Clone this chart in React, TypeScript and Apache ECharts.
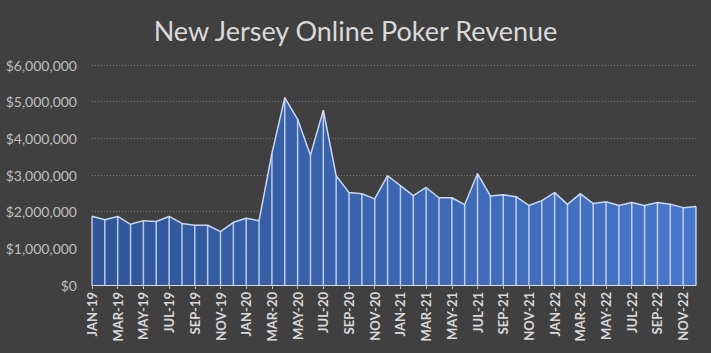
import React, { useEffect, useRef } from "react";
import * as echarts from "echarts";

const months = [
  "JAN-19","FEB-19","MAR-19","APR-19","MAY-19","JUN-19","JUL-19","AUG-19","SEP-19","OCT-19","NOV-19","DEC-19",
  "JAN-20","FEB-20","MAR-20","APR-20","MAY-20","JUN-20","JUL-20","AUG-20","SEP-20","OCT-20","NOV-20","DEC-20",
  "JAN-21","FEB-21","MAR-21","APR-21","MAY-21","JUN-21","JUL-21","AUG-21","SEP-21","OCT-21","NOV-21","DEC-21",
  "JAN-22","FEB-22","MAR-22","APR-22","MAY-22","JUN-22","JUL-22","AUG-22","SEP-22","OCT-22","NOV-22","DEC-22",
];

const revenue = [
  1873000, 1780000, 1870000, 1655000, 1755000, 1730000, 1870000, 1680000, 1630000, 1630000, 1455000, 1710000,
  1820000, 1755000, 3590000, 5110000, 4520000, 3540000, 4770000, 2980000, 2520000, 2490000, 2350000, 2980000,
  2710000, 2440000, 2660000, 2380000, 2380000, 2190000, 3040000, 2430000, 2460000, 2410000, 2170000, 2300000,
  2520000, 2200000, 2490000, 2220000, 2270000, 2170000, 2250000, 2170000, 2250000, 2200000, 2110000, 2140000,
];

const yTicks = { min: 0, max: 6000000, interval: 1000000 };

export default function App() {
  const ref = useRef<HTMLDivElement>(null);
  useEffect(() => {
    if (!ref.current) return;
    const chart = echarts.init(ref.current, undefined, { renderer: "svg" });
    chart.setOption({
      animation: false,
      backgroundColor: "#404040",
      title: {
        text: "New Jersey Online Poker Revenue",
        left: "center",
        top: 12,
        textStyle: { color: "#d9d9d9", fontSize: 27, fontWeight: "normal", fontFamily: "Lato" },
      },
      grid: { left: 92, right: 15, top: 65, bottom: 68 },
      xAxis: {
        type: "category",
        data: months,
        boundaryGap: false,
        axisLine: { lineStyle: { color: "#d9d9d9", width: 1 } },
        axisTick: { show: true, interval: 1, length: 4, lineStyle: { color: "#bfbfbf" } },
        axisLabel: {
          interval: 1,
          rotate: 90,
          color: "#d9d9d9",
          fontWeight: "bold",
          fontSize: 13,
          fontFamily: "Lato",
          margin: 7,
        },
        splitLine: { show: false },
      },
      yAxis: {
        type: "value",
        min: yTicks.min,
        max: yTicks.max,
        interval: yTicks.interval,
        axisLine: { show: false },
        axisTick: { show: false },
        axisLabel: {
          color: "#bfbfbf",
          fontSize: 14,
          fontFamily: "Lato",
          margin: 15,
          formatter: (v: number) => "$" + v.toLocaleString("en-US"),
        },
        splitLine: { lineStyle: { color: "#7a7a7a", type: [1, 2], width: 1 } },
      },
      series: [
        {
          type: "line",
          data: revenue,
          symbol: "none",
          z: 2,
          lineStyle: { color: "#c9d6ef", width: 1.5 },
          areaStyle: {
            opacity: 1,
            color: new echarts.graphic.LinearGradient(0, 0, 1, 0, [
              { offset: 0, color: "#2f5597" },
              { offset: 1, color: "#4777cb" },
            ]),
          },
        },
        {
          type: "bar",
          data: revenue,
          barWidth: 1.5,
          z: 3,
          itemStyle: { color: "rgba(210,222,245,0.85)" },
        },
      ],
    });
    return () => chart.dispose();
  }, []);
  return (
    <div
      ref={ref}
      style={{ position: "absolute", left: 0, top: 0, width: 711, height: 353 }}
    />
  );
}
